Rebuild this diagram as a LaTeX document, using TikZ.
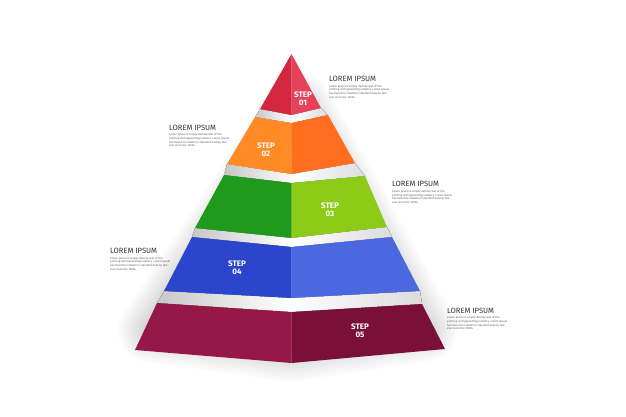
\documentclass[tikz,border=0pt]{standalone}
\usepackage{fontspec}
\setmainfont{Fira Sans}
\usetikzlibrary{positioning}

\definecolor{lft1}{HTML}{D3263F}
\definecolor{rgt1}{HTML}{E4425A}
\definecolor{lft2}{HTML}{FF8A26}
\definecolor{rgt2}{HTML}{FF6E1F}
\definecolor{lft3}{HTML}{1F9A1C}
\definecolor{rgt3}{HTML}{8CCB17}
\definecolor{lft4}{HTML}{2B45CC}
\definecolor{rgt4}{HTML}{4C68E0}
\definecolor{lft5}{HTML}{951848}
\definecolor{rgt5}{HTML}{7A0F37}

\newcommand{\loremtext}{Lorem Ipsum is simply dummy text of the\\printing and typesetting industry. Lorem Ipsum\\has been the industry's standard dummy text\\ever since the 1500s.}

\begin{document}
\begin{tikzpicture}[x=1pt,y=-1pt]
	\tikzstyle{Title}	= [anchor=west, inner sep=0pt, text=black!80, font=\fontsize{7.6}{8}\selectfont]
	\tikzstyle{Body}	= [inner sep=0pt, align=left, text=black!65, font=\fontsize{2.8}{3.7}\selectfont]
	\tikzstyle{Step}	= [align=center, inner sep=0pt, text=white, font=\bfseries\fontsize{8}{8}\selectfont]
	\tikzstyle{Gap}		= [left color=black!22, right color=black!14, middle color=white]
	\tikzstyle{Halo}	= [black, opacity=0.011, line join=round]

	\useasboundingbox (0,0) rectangle (626,417);
	\fill[white] (0,0) rectangle (626,417);

	% soft shadow round the pyramid
	\foreach \w in {4,8,...,64}
		\filldraw[Halo, line width=\w pt] (300,105) -- (150,330) -- (290,350) -- (425,330) -- cycle;

	% gaps between the steps
	\foreach \ax/\ay/\fy/\bx/\by/\cx/\cy/\gy/\dx/\dy in {260/109/115/321/108/328/115/123/255/117, 227/164/174/355/163/365/176/183/224/175, 195/228/238/387/227/392/237/247/192/237, 164/291/298/420/291/422/304/312/157/303}
		\fill[Gap] (\ax,\ay) -- (291.5,\fy) -- (\bx,\by) -- (\cx,\cy) -- (291.5,\gy) -- (\dx,\dy) -- cycle;

	% the five steps, each folded at x = 291.5
	\foreach \n/\tlx/\tly/\tfy/\trx/\try/\blx/\bly/\bfy/\brx/\bry in {1/291.5/54/54/291.5/54/260/109/115/321/108, 2/255/117/123/328/115/227/164/174/355/163, 3/224/175/183/365/176/195/228/238/387/227, 4/192/237/247/392/237/164/291/298/420/291, 5/157/303/312/422/304/135/350/363/445/349}
	{
		\fill[lft\n] (\tlx,\tly) -- (291.5,\tfy) -- (291.5,\bfy) -- (\blx,\bly) -- cycle;
		\fill[rgt\n] (291.5,\tfy) -- (\trx,\try) -- (\brx,\bry) -- (291.5,\bfy) -- cycle;
	}

	\foreach \n/\x/\y in {1/303/99, 2/266/150, 3/330/210, 4/237/268, 5/360/331}
		\node (s\n) at (\x,\y) [Step] {STEP\\0\n};

	\foreach \n/\x/\y in {1/329/79, 2/169/127.5, 3/392/184.3, 4/110/251, 5/447/310.5}
	{
		\node (t\n) at (\x,\y) [Title] {LOREM IPSUM};
		\node (d\n) [Body, below right=3pt and 0pt of t\n.south west] {\loremtext};
	}
\end{tikzpicture}
\end{document}
